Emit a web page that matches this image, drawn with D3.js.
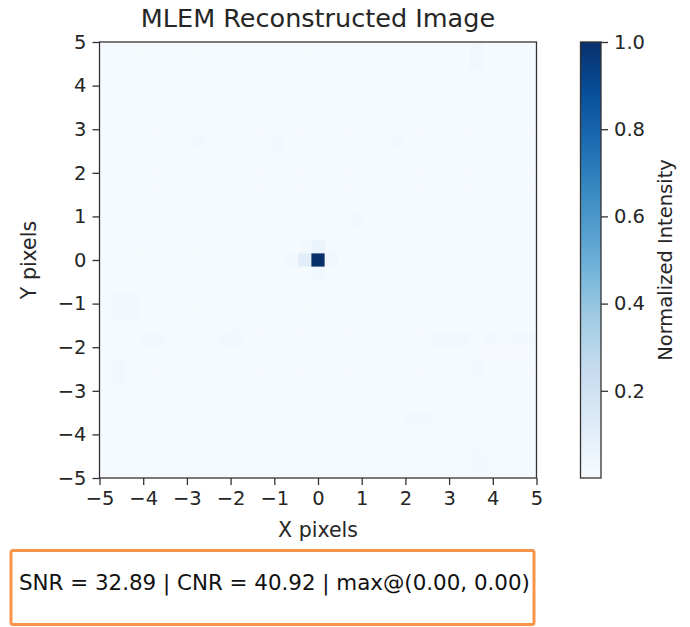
<!DOCTYPE html>
<html>
<head>
<meta charset="utf-8">
<script src="https://cdn.jsdelivr.net/npm/d3@7"></script>
<style>
  html, body { margin: 0; padding: 0; background: #fff; }
  svg { display: block; font-family: "DejaVu Sans", sans-serif; }
</style>
</head>
<body>
<svg id="chart" width="690" height="627"></svg>
<script>
// ---------------- data ----------------
const gridSize = 33;                 // image is gridSize x gridSize pixels
const extent = [-5, 5];              // spatial extent in pixels units
const backgroundValue = 0.008;       // near-uniform background intensity
// sparse non-background cells: column index (left→right), row index (top→bottom), normalized intensity
const cellCols = [16, 15, 16, 16, 17, 14, 15, 17,
  7, 13, 13, 28, 28, 28, 22, 28, 19,
  1, 2, 1, 2, 1, 3, 4, 9, 10, 10, 1, 1, 1,
  25, 26, 27, 29, 30, 31, 32, 29, 30, 31,
  28, 28, 23, 24, 25, 28, 27, 28, 29, 27, 28, 29];
const cellRows = [16, 16, 15, 17, 16, 16, 15, 15,
  7, 7, 8, 0, 1, 2, 7, 10, 13,
  19, 19, 20, 20, 21, 22, 22, 22, 22, 21, 24, 25, 26,
  22, 22, 22, 22, 22, 22, 22, 23, 23, 23,
  24, 25, 28, 28, 28, 30, 31, 31, 31, 32, 32, 32];
const cellValues = [1.0, 0.11, 0.06, 0.035, 0.03, 0.025, 0.02, 0.018,
  0.025, 0.022, 0.016, 0.03, 0.03, 0.016, 0.02, 0.016, 0.02,
  0.03, 0.02, 0.02, 0.02, 0.016, 0.02, 0.02, 0.02, 0.02, 0.016, 0.02, 0.02, 0.016,
  0.025, 0.02, 0.02, 0.02, 0.016, 0.025, 0.02, 0.012, 0.012, 0.012,
  0.02, 0.016, 0.02, 0.02, 0.016, 0.016, 0.016, 0.02, 0.016, 0.016, 0.02, 0.016];
const axisTicks = [-5, -4, -3, -2, -1, 0, 1, 2, 3, 4, 5];
const colorbarTicks = [0.2, 0.4, 0.6, 0.8, 1.0];
const colorbarDomain = [0.0, 1.0];
const titleText = "MLEM Reconstructed Image";
const xLabel = "X pixels";
const yLabel = "Y pixels";
const colorbarLabel = "Normalized Intensity";
const statsText = "SNR = 32.89 | CNR = 40.92 | max@(0.00, 0.00)";
// matplotlib "Blues" colormap anchors
const bluesStops = ["#f7fbff", "#deebf7", "#c6dbef", "#9ecae1", "#6baed6", "#4292c6", "#2171b5", "#08519c", "#08306b"];

// ---------------- build matrix ----------------
const matrix = d3.range(gridSize).map(() => d3.range(gridSize).map(() => backgroundValue));
cellCols.forEach((c, i) => { matrix[cellRows[i]][cellCols[i]] = cellValues[i]; });
const cells = [];
for (let r = 0; r < gridSize; r++) for (let c = 0; c < gridSize; c++) cells.push({ r, c, v: matrix[r][c] });

// ---------------- layout ----------------
const svg = d3.select("#chart");
const plot = { left: 99.5, right: 536.5, top: 42, bottom: 478 };
const cb = { left: 580.5, right: 601, top: 42, bottom: 478 };
const fontTick = 19.5;
const ink = "#262626";

const x = d3.scaleLinear().domain(extent).range([plot.left, plot.right]);
const y = d3.scaleLinear().domain(extent).range([plot.bottom, plot.top]);
const step = (extent[1] - extent[0]) / gridSize;

const color = d3.scaleLinear()
  .domain(bluesStops.map((_, i) => colorbarDomain[0] + (colorbarDomain[1] - colorbarDomain[0]) * i / (bluesStops.length - 1)))
  .range(bluesStops)
  .interpolate(d3.interpolateRgb)
  .clamp(true);

// ---------------- heatmap ----------------
svg.append("g")
  .selectAll("rect")
  .data(cells)
  .join("rect")
  .attr("x", d => x(extent[0] + d.c * step))
  .attr("y", d => y(extent[1] - d.r * step))
  .attr("width", d => x(extent[0] + (d.c + 1) * step) - x(extent[0] + d.c * step) + 0.4)
  .attr("height", d => y(extent[1] - (d.r + 1) * step) - y(extent[1] - d.r * step) + 0.4)
  .attr("fill", d => color(d.v));

// frame
svg.append("rect")
  .attr("x", plot.left).attr("y", plot.top)
  .attr("width", plot.right - plot.left).attr("height", plot.bottom - plot.top)
  .attr("fill", "none").attr("stroke", "#333").attr("stroke-width", 1.3);

// axes
const xAxis = d3.axisBottom(x).tickValues(axisTicks).tickSize(7).tickPadding(6);
const yAxis = d3.axisLeft(y).tickValues(axisTicks).tickSize(7).tickPadding(6);

const gx = svg.append("g").attr("transform", `translate(0,${plot.bottom})`).call(xAxis);
const gy = svg.append("g").attr("transform", `translate(${plot.left},0)`).call(yAxis);
[gx, gy].forEach(g => {
  g.select(".domain").remove();
  g.selectAll(".tick line").attr("stroke", "#333").attr("stroke-width", 1.3);
  g.selectAll(".tick text").attr("fill", ink).style("font-size", fontTick + "px").style("font-family", "DejaVu Sans");
});

// title and labels
svg.append("text")
  .attr("x", (plot.left + plot.right) / 2).attr("y", 27)
  .attr("text-anchor", "middle").attr("fill", ink)
  .style("font-size", "25.5px")
  .text(titleText);

svg.append("text")
  .attr("x", (plot.left + plot.right) / 2).attr("y", 537)
  .attr("text-anchor", "middle").attr("fill", ink)
  .style("font-size", "20.5px")
  .text(xLabel);

svg.append("text")
  .attr("transform", `translate(36,${(plot.top + plot.bottom) / 2}) rotate(-90)`)
  .attr("text-anchor", "middle").attr("fill", ink)
  .style("font-size", "20.5px")
  .text(yLabel);

// ---------------- colorbar ----------------
const cbScale = d3.scaleLinear().domain(colorbarDomain).range([cb.bottom, cb.top]);
const defs = svg.append("defs");
const grad = defs.append("linearGradient").attr("id", "cbgrad")
  .attr("x1", 0).attr("y1", 1).attr("x2", 0).attr("y2", 0);
grad.selectAll("stop")
  .data(d3.range(0, 1.0001, 0.125))
  .join("stop")
  .attr("offset", d => d)
  .attr("stop-color", d => color(colorbarDomain[0] + d * (colorbarDomain[1] - colorbarDomain[0])));

svg.append("rect")
  .attr("x", cb.left).attr("y", cb.top)
  .attr("width", cb.right - cb.left).attr("height", cb.bottom - cb.top)
  .attr("fill", "url(#cbgrad)")
  .attr("stroke", "#333").attr("stroke-width", 1.3);

const cbAxis = d3.axisRight(cbScale).tickValues(colorbarTicks).tickFormat(d3.format(".1f")).tickSize(7).tickPadding(6);
const gcb = svg.append("g").attr("transform", `translate(${cb.right},0)`).call(cbAxis);
gcb.select(".domain").remove();
gcb.selectAll(".tick line").attr("stroke", "#333").attr("stroke-width", 1.3);
gcb.selectAll(".tick text").attr("fill", ink).style("font-size", fontTick + "px").style("font-family", "DejaVu Sans");

svg.append("text")
  .attr("transform", `translate(672,${(cb.top + cb.bottom) / 2}) rotate(-90)`)
  .attr("text-anchor", "middle").attr("fill", ink)
  .style("font-size", "19.5px")
  .text(colorbarLabel);

// ---------------- stats box ----------------
svg.append("rect")
  .attr("x", 11).attr("y", 550.5)
  .attr("width", 523).attr("height", 74)
  .attr("rx", 2)
  .attr("fill", "#fff")
  .attr("stroke", "#f7944a").attr("stroke-width", 3);

svg.append("text")
  .attr("x", 19).attr("y", 590)
  .attr("fill", "#111")
  .style("font-size", "21.4px")
  .text(statsText);
</script>
</body>
</html>
